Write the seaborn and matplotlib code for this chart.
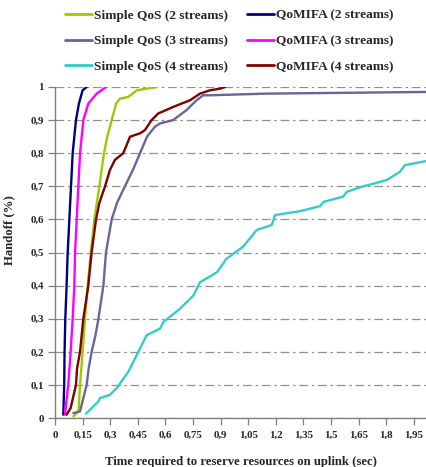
import numpy as np
import pandas as pd
import matplotlib
matplotlib.use("Agg")
import matplotlib.pyplot as plt
import seaborn as sns

# ---- data ----
qomifa2_x = [0.045, 0.05, 0.052, 0.056, 0.063, 0.069, 0.078, 0.087, 0.096, 0.114, 0.13, 0.15, 0.172]
qomifa2_y = [0.01, 0.1, 0.2, 0.3, 0.4, 0.5, 0.6, 0.7, 0.8, 0.9, 0.95, 0.99, 1.0]

qomifa3_x = [0.054, 0.072, 0.085, 0.096, 0.105, 0.109, 0.118, 0.127, 0.136, 0.154, 0.181, 0.227, 0.277]
qomifa3_y = [0.01, 0.1, 0.2, 0.3, 0.4, 0.5, 0.6, 0.7, 0.8, 0.9, 0.95, 0.98, 1.0]

simple2_x = [0.10, 0.128, 0.136, 0.15, 0.163, 0.178, 0.194, 0.214, 0.241, 0.266, 0.284, 0.308, 0.332, 0.353, 0.398, 0.444, 0.553]
simple2_y = [0.005, 0.02, 0.1, 0.2, 0.3, 0.4, 0.5, 0.6, 0.7, 0.8, 0.85, 0.9, 0.95, 0.965, 0.97, 0.99, 1.0]

qomifa4_x = [0.063, 0.085, 0.114, 0.12, 0.136, 0.154, 0.181, 0.199, 0.223, 0.241, 0.272, 0.299, 0.326, 0.371, 0.408, 0.462, 0.489, 0.525, 0.561, 0.643, 0.734, 0.788, 0.842, 0.897, 0.924]
qomifa4_y = [0.01, 0.03, 0.1, 0.15, 0.2, 0.3, 0.4, 0.5, 0.6, 0.65, 0.7, 0.75, 0.78, 0.8, 0.85, 0.86, 0.87, 0.9, 0.92, 0.94, 0.96, 0.98, 0.99, 0.995, 1.0]

simple3_x = [0.10, 0.136, 0.172, 0.183, 0.199, 0.22, 0.236, 0.263, 0.27, 0.277, 0.308, 0.337, 0.38, 0.424, 0.462, 0.5, 0.543, 0.571, 0.642, 0.714, 0.77, 0.805, 0.842, 1.15, 2.02]
simple3_y = [0.015, 0.02, 0.1, 0.15, 0.2, 0.25, 0.3, 0.4, 0.45, 0.5, 0.6, 0.65, 0.7, 0.75, 0.8, 0.85, 0.88, 0.89, 0.9, 0.93, 0.96, 0.975, 0.975, 0.98, 0.985]

simple4_x = [0.168, 0.236, 0.244, 0.299, 0.335, 0.399, 0.444, 0.498, 0.571, 0.589, 0.679, 0.752, 0.788, 0.879, 0.915, 0.929, 1.023, 1.096, 1.178, 1.196, 1.332, 1.44, 1.46, 1.567, 1.585, 1.658, 1.803, 1.875, 1.902, 2.016]
simple4_y = [0.013, 0.05, 0.06, 0.07, 0.09, 0.14, 0.19, 0.25, 0.27, 0.29, 0.33, 0.37, 0.41, 0.44, 0.467, 0.48, 0.518, 0.568, 0.583, 0.613, 0.625, 0.64, 0.653, 0.669, 0.683, 0.697, 0.719, 0.744, 0.764, 0.776]

series_names = ["Simple QoS (2 streams)", "Simple QoS (3 streams)", "Simple QoS (4 streams)",
                "QoMIFA (2 streams)", "QoMIFA (3 streams)", "QoMIFA (4 streams)"]
series_x = [simple2_x, simple3_x, simple4_x, qomifa2_x, qomifa3_x, qomifa4_x]
series_y = [simple2_y, simple3_y, simple4_y, qomifa2_y, qomifa3_y, qomifa4_y]
colors = ["#99CC00", "#666699", "#33CCCC", "#000080", "#FF00FF", "#800000"]

x_ticks = [0, 0.15, 0.3, 0.45, 0.6, 0.75, 0.9, 1.05, 1.2, 1.35, 1.5, 1.65, 1.8, 1.95]
x_ticklabels = ["0", "0,15", "0,3", "0,45", "0,6", "0,75", "0,9", "1,05", "1,2", "1,35", "1,5", "1,65", "1,8", "1,95"]
y_ticks = [0, 0.1, 0.2, 0.3, 0.4, 0.5, 0.6, 0.7, 0.8, 0.9, 1.0]
y_ticklabels = ["0", "0,1", "0,2", "0,3", "0,4", "0,5", "0,6", "0,7", "0,8", "0,9", "1"]

rows = []
for name, xs, ys in zip(series_names, series_x, series_y):
    for i, (xv, yv) in enumerate(zip(xs, ys)):
        rows.append({"series": name, "x": xv, "y": yv, "order": i})
df = pd.DataFrame(rows)

sns.set_style("white")
plt.rcParams["font.family"] = ["Liberation Serif", "DejaVu Serif"]
plt.rcParams["font.weight"] = "bold"

fig = plt.figure(figsize=(4.26, 4.67), dpi=100)
ax = fig.add_axes([55 / 426, 49 / 467, 371 / 426, 331 / 467])

sns.lineplot(data=df, x="x", y="y", hue="series", hue_order=series_names,
             palette=dict(zip(series_names, colors)), sort=False, estimator=None,
             units="series", linewidth=1.7, ax=ax, legend=True)

ax.set_xlim(0, 371 / 184)
ax.set_ylim(0, 1)
ax.set_xticks(x_ticks)
ax.set_xticklabels(x_ticklabels, fontsize=7.8, fontweight="bold")
ax.set_yticks(y_ticks)
ax.set_yticklabels(y_ticklabels, fontsize=7.8, fontweight="bold")
ax.tick_params(axis="both", which="both", direction="out", length=5, width=0.9,
               color="#808080", pad=3, bottom=True, left=True)
ax.tick_params(axis="x", pad=4)
ax.yaxis.grid(True, color="#909090", linestyle=(0, (7, 3, 2, 3)), linewidth=0.9)
ax.xaxis.grid(False)
ax.set_axisbelow(True)
for s in ["top", "right"]:
    ax.spines[s].set_visible(False)
for s in ["left", "bottom"]:
    ax.spines[s].set_color("#808080")
    ax.spines[s].set_linewidth(1.0)

ax.set_xlabel("Time required to reserve resources on uplink (sec)", fontsize=9.2,
              fontweight="bold")
ax.xaxis.set_label_coords(0.5, -38 / 331, transform=ax.transAxes)
ax.set_ylabel("Handoff (%)", fontsize=9.2, fontweight="bold")
ax.yaxis.set_label_coords(-40 / 371, (418 - 230) / 331, transform=ax.transAxes)

handles, labels = ax.get_legend_handles_labels()
ax.legend(handles, labels, ncol=2, frameon=False, loc="upper left",
          bbox_to_anchor=(58 / 426, 1.0 - 2 / 467), bbox_transform=fig.transFigure,
          prop={"family": "Liberation Serif", "weight": "bold", "size": 9.6},
          handlelength=2.0, handletextpad=0.15, labelspacing=1.0, columnspacing=1.45,
          borderaxespad=0.15)
for h in ax.get_legend().get_lines():
    h.set_linewidth(2)

fig.savefig("out.png", dpi=100)
